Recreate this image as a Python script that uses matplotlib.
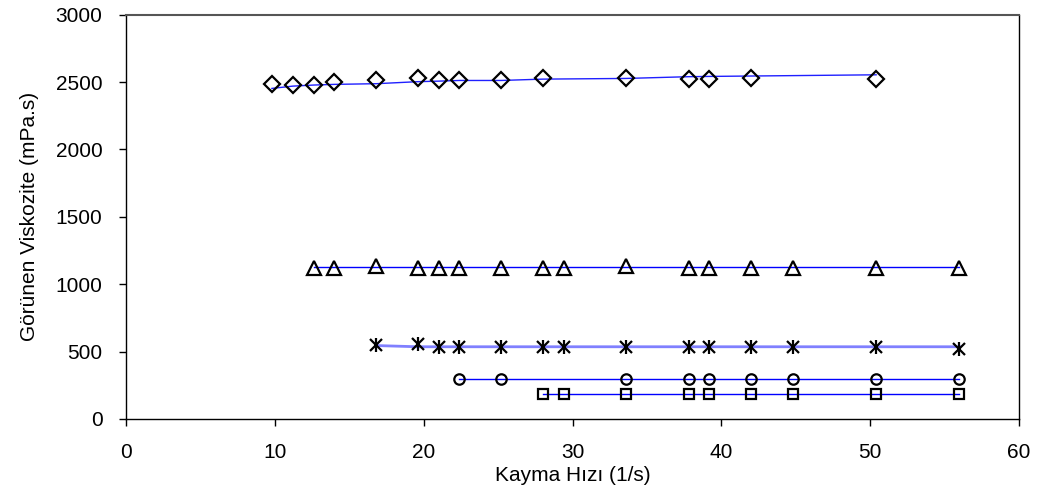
import numpy as np
import matplotlib
matplotlib.use("Agg")
import matplotlib.pyplot as plt

plt.rcParams['font.family'] = ['Liberation Sans', 'DejaVu Sans']

# shear rate (1/s) and apparent viscosity (mPa.s) for each sample
x_diamond = [9.8, 11.2, 12.6, 14.0, 16.8, 19.6, 21.0, 22.4, 25.2, 28.0, 33.6, 37.8, 39.2, 42.0, 50.4]
y_diamond = [2483, 2478, 2478, 2503, 2515, 2527, 2515, 2515, 2515, 2527, 2530, 2525, 2525, 2532, 2522]
# trend line drawn through the diamonds
y_diamond_line = [2453, 2470, 2478, 2483, 2488, 2503, 2507, 2512, 2512, 2522, 2527, 2540, 2542, 2545, 2554]

x_triangle = [12.6, 14.0, 16.8, 19.6, 21.0, 22.4, 25.2, 28.0, 29.4, 33.6, 37.8, 39.2, 42.0, 44.8, 50.4, 56.0]
y_triangle = [1120, 1120, 1137, 1120, 1120, 1120, 1120, 1120, 1120, 1137, 1120, 1120, 1120, 1120, 1120, 1120]
y_triangle_line = [1125] * len(x_triangle)

x_star = [16.8, 19.6, 21.0, 22.4, 25.2, 28.0, 29.4, 33.6, 37.8, 39.2, 42.0, 44.8, 50.4, 56.0]
y_star = [549, 554, 536, 536, 536, 536, 536, 536, 536, 536, 536, 536, 536, 521]
y_star_line = [545, 536, 536, 536, 536, 536, 536, 536, 536, 536, 536, 536, 536, 536]

x_circle = [22.4, 25.2, 33.6, 37.8, 39.2, 42.0, 44.8, 50.4, 56.0]
y_circle = [296, 296, 296, 296, 296, 296, 296, 296, 296]

x_square = [28.0, 29.4, 33.6, 37.8, 39.2, 42.0, 44.8, 50.4, 56.0]
y_square = [183, 183, 183, 183, 183, 183, 183, 183, 183]

fig = plt.figure(figsize=(10.46, 5.0), dpi=100)
ax = fig.add_axes([0.1205, 0.162, 0.8537, 0.8086])

mk = dict(linestyle='none', markerfacecolor='none', markeredgecolor='black', markeredgewidth=1.6)

ax.plot(x_diamond, y_diamond_line, color='#2020ff', lw=1.0)
ax.plot(x_diamond, y_diamond, marker='D', markersize=8, **mk)

ax.plot(x_triangle, y_triangle_line, color='#0000ff', lw=1.0)
ax.plot(x_triangle, y_triangle, marker='^', markersize=9.5, **mk)

# asterisk = x plus vertical bar
ax.plot(x_star, y_star_line, color='#8080ff', lw=2.0)
ax.plot(x_star, y_star, marker='x', markersize=8, linestyle='none',
        color='black', markeredgewidth=1.6)
ax.plot(x_star, y_star, marker='|', markersize=10, linestyle='none',
        color='black', markeredgewidth=1.6)

ax.plot(x_circle, y_circle, color='#0000ff', lw=1.0)
ax.plot(x_circle, y_circle, marker='o', markersize=7.5, **mk)

ax.plot(x_square, y_square, color='#0000ff', lw=1.0)
ax.plot(x_square, y_square, marker='s', markersize=7, **mk)

ax.set_xlim(0, 60)
ax.set_ylim(0, 3000)
ax.set_xticks(np.arange(0, 61, 10))
ax.set_yticks(np.arange(0, 3001, 500))
ax.tick_params(direction='out', length=5, width=1, labelsize=15, pad=12)

for s in ax.spines.values():
    s.set_linewidth(1.0)
    s.set_color('black')
ax.spines['top'].set_color('#555555')
ax.spines['top'].set_linewidth(1.5)

ax.set_xlabel('Kayma Hızı (1/s)', fontsize=15, labelpad=3)
ax.set_ylabel('Görünen Viskozite (mPa.s)', fontsize=15, labelpad=12)

fig.savefig('out.png', dpi=100)
